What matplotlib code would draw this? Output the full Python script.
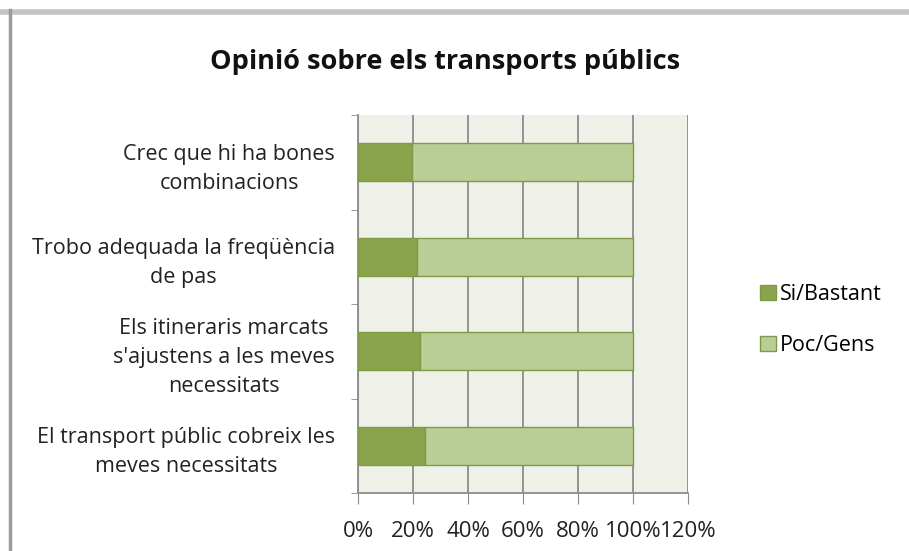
import matplotlib
matplotlib.use("Agg")
import matplotlib.pyplot as plt
from matplotlib.lines import Line2D
from matplotlib.ticker import FuncFormatter
from matplotlib.transforms import ScaledTranslation

plt.rcParams['font.family'] = ['Open Sans', 'DejaVu Sans']

# Categories listed bottom to top
categories = [
    "El transport públic cobreix les\nmeves necessitats",
    "Els itineraris marcats\ns'ajustens a les meves\nnecessitats",
    "Trobo adequada la freqüència\nde pas",
    "Crec que hi ha bones\ncombinacions",
]
si_bastant = [24.5, 22.5, 21.5, 19.5]
poc_gens = [75.5, 77.5, 78.5, 80.5]
x_ticks = [0, 20, 40, 60, 80, 100, 120]

dark_green = '#8aa44b'
light_green = '#bacd96'
edge_green = '#7d9a45'
W, H = 909, 551

fig = plt.figure(figsize=(W / 100, H / 100), dpi=100)
fig.patch.set_facecolor('white')

# frame edges (top and left only)
fig.lines.append(Line2D([0, 1], [1 - 12 / H, 1 - 12 / H], transform=fig.transFigure,
                        color='#c4c4c4', linewidth=4))
fig.lines.append(Line2D([9.5 / W, 9.5 / W], [0, 1 - 10 / H], transform=fig.transFigure,
                        color='#9a9a9a', linewidth=2.5))

ax = fig.add_axes([358 / W, 1 - 493 / H, (688 - 358) / W, (493 - 115) / H])
ax.set_facecolor('#eff1e8')

pos = list(range(len(categories)))
ax.barh(pos, si_bastant, height=0.4, color=dark_green, edgecolor=edge_green,
        linewidth=1, label='Si/Bastant', zorder=3)
ax.barh(pos, poc_gens, left=si_bastant, height=0.4, color=light_green,
        edgecolor=edge_green, linewidth=1, label='Poc/Gens', zorder=3)

ax.set_xlim(0, 120)
ax.set_ylim(-0.5, len(categories) - 0.5)
ax.set_xticks(x_ticks)
ax.xaxis.set_major_formatter(FuncFormatter(lambda v, p: f"{int(v)}%"))
ax.grid(axis='x', color='#8c8c8c', linewidth=1.3, zorder=0)

ax.set_yticks(pos)
ax.set_yticklabels(categories, fontsize=15.5, color='#222222', ha='right',
                   multialignment='center', linespacing=1.5)
shift = ScaledTranslation(0, -4 / 100, fig.dpi_scale_trans)
for lab in ax.get_yticklabels():
    lab.set_transform(lab.get_transform() + shift)
ax.tick_params(axis='y', length=0, pad=16.5)
ax.set_yticks([p - 0.5 for p in pos] + [len(categories) - 0.5], minor=True)
ax.tick_params(axis='y', which='minor', length=5, color='#8c8c8c')
ax.tick_params(axis='x', length=8, color='#8c8c8c', labelsize=16, labelcolor='#222222', pad=12.5)

for side in ['top', 'right']:
    ax.spines[side].set_visible(False)
for side in ['left', 'bottom']:
    ax.spines[side].set_color('#8c8c8c')
    ax.spines[side].set_linewidth(1.3)

fig.text(445 / W, 1 - 62 / H, "Opinió sobre els transports públics",
         ha='center', va='center', fontsize=19.5, fontweight='bold', color='#111111')

ax.legend(loc='center left', bbox_to_anchor=(760 / W, 1 - 320 / H),
          bbox_transform=fig.transFigure, frameon=False, fontsize=15.5,
          borderpad=0, borderaxespad=0,
          handlelength=0.72, handleheight=0.72, handletextpad=0.2, labelspacing=1.4)

fig.savefig('out.png', dpi=100)
